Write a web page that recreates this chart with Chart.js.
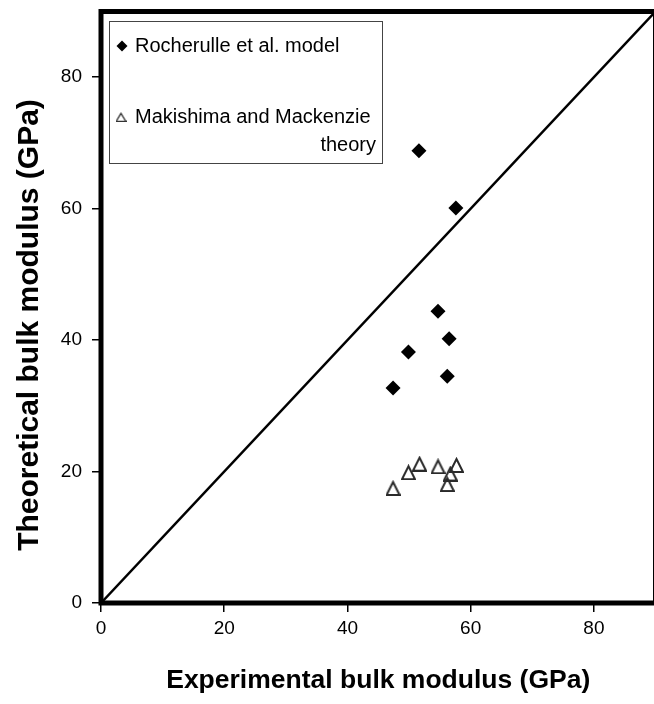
<!DOCTYPE html>
<html>
<head>
<meta charset="utf-8">
<script src="https://cdn.jsdelivr.net/npm/chart.js@4/dist/chart.umd.min.js"></script>
<style>
html,body{margin:0;padding:0;background:#fff;overflow:hidden;width:654px;height:704px;}
#wrap{position:absolute;left:0;top:0;width:660px;height:704px;}
</style>
</head>
<body>
<div id="wrap"><canvas id="c" width="660" height="704"></canvas></div>
<script>
// ---- data ----
const seriesNames = ['Rocherulle et al. model', 'Makishima and Mackenzie theory'];
const rocherulleX = [47.4, 49.9, 51.6, 54.7, 56.5, 56.2, 57.6];
const rocherulleY = [32.7, 38.2, 68.8, 44.4, 40.2, 34.5, 60.1];
const makishimaX  = [47.4, 49.9, 51.7, 54.7, 56.7, 56.2, 57.7];
const makishimaY  = [17.5, 19.9, 21.2, 20.8, 19.7, 18.1, 21.0];
const parityLine  = [0, 90];
const tickValues  = [0, 20, 40, 60, 80];
const axisMin = 0, axisMax = 90;
const xTitle = 'Experimental bulk modulus (GPa)';
const yTitle = 'Theoretical bulk modulus (GPa)';

const FONT = "'Liberation Sans', Arial, sans-serif";

function triangleImage(w, h, lw, color) {
  const cv = document.createElement('canvas');
  cv.width = w; cv.height = h;
  const g = cv.getContext('2d');
  g.strokeStyle = color;
  g.lineWidth = lw;
  g.lineJoin = 'miter';
  g.beginPath();
  g.moveTo(w / 2, lw);
  g.lineTo(w - lw / 2, h - lw / 2);
  g.lineTo(lw / 2, h - lw / 2);
  g.closePath();
  g.stroke();
  return cv;
}
const triMarker = triangleImage(15, 16, 2, '#2a2a2a');
const triLegend = triangleImage(11, 10, 1.3, '#333');

const toPts = (xs, ys) => xs.map((x, i) => ({x: x, y: ys[i]}));

const frame = {
  id: 'frame',
  afterDatasetsDraw(chart) {
    const {ctx, chartArea: a} = chart;
    ctx.save();
    ctx.strokeStyle = '#000';
    ctx.lineWidth = 5;
    ctx.strokeRect(a.left, a.top, a.right - a.left, a.bottom - a.top);
    ctx.restore();
  }
};

const yTitlePlugin = {
  id: 'yTitlePlugin',
  afterDraw(chart) {
    const ctx = chart.ctx;
    ctx.save();
    ctx.translate(30, 325);
    ctx.rotate(-Math.PI / 2);
    ctx.font = 'bold 30px ' + FONT;
    ctx.fillStyle = '#000';
    ctx.textAlign = 'center';
    ctx.textBaseline = 'middle';
    ctx.fillText(yTitle, 0, 0);
    ctx.restore();
  }
};

const legendBox = {
  id: 'legendBox',
  afterDraw(chart) {
    const ctx = chart.ctx;
    ctx.save();
    ctx.fillStyle = '#fff';
    ctx.fillRect(109.5, 21.5, 273, 142);
    ctx.strokeStyle = '#444';
    ctx.lineWidth = 1;
    ctx.strokeRect(109.5, 21.5, 273, 142);
    ctx.fillStyle = '#000';
    ctx.beginPath();
    const dx = 122, dy = 46, r = 5.5;
    ctx.moveTo(dx - r, dy); ctx.lineTo(dx, dy - r); ctx.lineTo(dx + r, dy); ctx.lineTo(dx, dy + r);
    ctx.closePath(); ctx.fill();
    ctx.drawImage(triLegend, 121 - 5.5, 117 - 5);
    ctx.font = '20px ' + FONT;
    ctx.fillStyle = '#000';
    ctx.textBaseline = 'middle';
    ctx.textAlign = 'left';
    ctx.fillText(seriesNames[0], 135, 46);
    const words = seriesNames[1].split(' ');
    const last = words.pop();
    ctx.fillText(words.join(' '), 135, 117);
    ctx.textAlign = 'right';
    ctx.fillText(last, 376, 145);
    ctx.restore();
  }
};

new Chart(document.getElementById('c'), {
  type: 'scatter',
  data: {
    datasets: [
      {
        label: seriesNames[0],
        data: toPts(rocherulleX, rocherulleY),
        pointStyle: 'rectRot',
        pointRadius: 7.5,
        pointHoverRadius: 7.5,
        backgroundColor: '#000',
        borderColor: '#000',
        borderWidth: 0,
        order: 1
      },
      {
        label: seriesNames[1],
        data: toPts(makishimaX, makishimaY),
        pointStyle: triMarker,
        pointRadius: 8,
        order: 2
      },
      {
        type: 'line',
        label: 'y = x',
        data: toPts(parityLine, parityLine),
        borderColor: '#000',
        borderWidth: 2.5,
        pointRadius: 0,
        showLine: true,
        fill: false,
        order: 3
      }
    ]
  },
  options: {
    responsive: false,
    animation: false,
    devicePixelRatio: 1,
    layout: {autoPadding: false, padding: {top: 11.5, right: 4.5, left: 0, bottom: 0}},
    plugins: {legend: {display: false}, tooltip: {enabled: false}},
    scales: {
      x: {
        type: 'linear', min: axisMin, max: axisMax,
        afterBuildTicks: s => { s.ticks = tickValues.map(v => ({value: v})); },
        afterFit: s => { s.height = 101; s.paddingLeft = 0; s.paddingRight = 0; },
        grid: {drawOnChartArea: false, drawTicks: true, tickLength: 9, color: '#000', lineWidth: 1.5},
        border: {display: false},
        ticks: {color: '#000', font: {family: FONT, size: 19}, padding: 5, maxRotation: 0},
        title: {display: true, text: xTitle, color: '#000', font: {family: FONT, size: 26.5, weight: 'bold'}, padding: {top: 0, bottom: 7}}
      },
      y: {
        type: 'linear', min: axisMin, max: axisMax,
        afterBuildTicks: s => { s.ticks = tickValues.map(v => ({value: v})); },
        afterFit: s => { s.width = 101; s.paddingTop = 0; s.paddingBottom = 0; },
        grid: {drawOnChartArea: false, drawTicks: true, tickLength: 9, color: '#000', lineWidth: 1.5},
        border: {display: false},
        ticks: {color: '#000', font: {family: FONT, size: 19}, padding: 10},
        title: {display: false, text: yTitle}
      }
    }
  },
  plugins: [frame, legendBox, yTitlePlugin]
});
</script>
</body>
</html>
